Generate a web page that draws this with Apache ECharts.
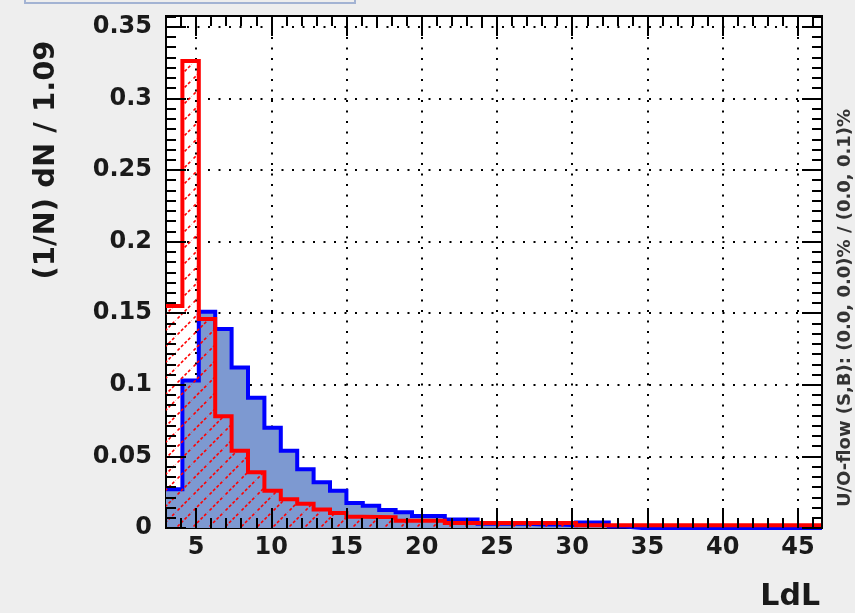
<!DOCTYPE html>
<html>
<head>
<meta charset="utf-8">
<title>LdL</title>
<script src="https://cdn.jsdelivr.net/npm/echarts@6/dist/echarts.min.js"></script>
<style>
  body { margin: 0; background: #eeeeee; }
  #main { width: 855px; height: 613px; }
</style>
</head>
<body>
<div id="main"></div>
<script>
// histogram binning: 40 bins of width 1.09 starting at 3
const xMin = 3
const binWidth = 1.09
const nBins = 40
const yMax = 0.3575

// signal (blue, filled)
const signal = [
  0.027, 0.103, 0.151, 0.139, 0.112, 0.091, 0.070, 0.054, 0.041, 0.032,
  0.026, 0.0175, 0.0155, 0.0125, 0.011, 0.0084, 0.0084, 0.006, 0.006, 0.003,
  0.003, 0.003, 0.0025, 0.0025, 0.002, 0.0038, 0.0038, 0.001, 0, 0,
  0, 0, 0, 0, 0, 0, 0, 0, 0, 0
]
// background (red, hatched)
const background = [
  0.155, 0.326, 0.146, 0.078, 0.054, 0.039, 0.026, 0.020, 0.017, 0.013,
  0.0105, 0.0078, 0.0077, 0.0076, 0.005, 0.005, 0.005, 0.0035, 0.0035, 0.0035,
  0.0035, 0.0035, 0.0035, 0.0035, 0.0035, 0.002, 0.002, 0.002, 0.002, 0.002,
  0.002, 0.002, 0.002, 0.002, 0.002, 0.002, 0.002, 0.002, 0.002, 0.002
]

const xMax = xMin + nBins * binWidth

// step points: left edge of each bin + closing right edge
function stepPoints(vals) {
  const pts = vals.map((v, i) => [xMin + i * binWidth, v])
  pts.push([xMax, vals[vals.length - 1]])
  return pts
}

// red hatch pattern (style 3004 like)
function hatch() {
  const s = 16
  const c = document.createElement('canvas')
  c.width = s
  c.height = s
  const ctx = c.getContext('2d')
  ctx.strokeStyle = '#ff0000'
  ctx.lineWidth = 1.6
  ctx.setLineDash([3, 2])
  ctx.beginPath()
  ctx.moveTo(-2, s + 2)
  ctx.lineTo(s + 2, -2)
  ctx.stroke()
  return c
}

const font = 'DejaVu Sans'
const txt = '#1a1a1a'
const tickStyle = { color: '#000', width: 2 }
const dots = { color: '#000', width: 2, type: [2, 8.5] }
const hideLine = { show: true, lineStyle: { color: 'rgba(0,0,0,0)', width: 1 } }

const chart = echarts.init(document.getElementById('main'))

chart.setOption({
  backgroundColor: '#eeeeee',
  animation: false,
  grid: {
    left: 166, right: 33, top: 16, bottom: 85,
    show: true, backgroundColor: '#ffffff', borderColor: '#000', borderWidth: 2
  },
  xAxis: [
    // main bottom axis: labels + major ticks (drawn above the histograms)
    {
      type: 'value', position: 'bottom', min: xMin, max: xMax, splitNumber: 9, z: 10,
      axisLine: hideLine,
      axisTick: { show: true, inside: true, length: 20, lineStyle: tickStyle },
      axisLabel: {
        show: true, margin: 8, showMinLabel: false, showMaxLabel: false,
        fontFamily: font, fontWeight: 'bold', fontSize: 24, color: txt
      },
      splitLine: { show: false }
    },
    // this one ends up on the bottom edge, so its ticks point up into the plot
    {
      type: 'value', position: 'top', min: xMin, max: xMax, splitNumber: 9, z: 10,
      axisLine: hideLine,
      axisTick: { show: true, inside: false, length: 20, lineStyle: tickStyle },
      axisLabel: { show: false },
      splitLine: { show: false }
    },
    // grid lines, under the histograms
    {
      type: 'value', position: 'bottom', min: xMin, max: xMax, splitNumber: 9, z: 0,
      axisLine: { show: false }, axisTick: { show: false }, axisLabel: { show: false },
      splitLine: { show: true, showMinLine: false, showMaxLine: false, lineStyle: dots }
    },
    // minor ticks every 1 unit at the bottom
    {
      type: 'value', position: 'bottom', min: xMin, max: xMax, interval: 1, z: 10,
      axisLine: hideLine,
      axisTick: { show: true, inside: true, length: 10, lineStyle: tickStyle },
      axisLabel: { show: false }, splitLine: { show: false }
    },
    // top edge: major + minor ticks
    {
      type: 'value', position: 'top', min: xMin, max: xMax, splitNumber: 9, z: 10,
      axisLine: hideLine,
      axisTick: { show: true, inside: true, length: 20, lineStyle: tickStyle },
      minorTick: { show: true, splitNumber: 5, length: 10, lineStyle: tickStyle },
      axisLabel: { show: false }, splitLine: { show: false }
    }
  ],
  yAxis: [
    {
      type: 'value', position: 'left', min: 0, max: yMax, interval: 0.05, z: 10,
      axisLine: hideLine,
      axisTick: { show: true, inside: true, length: 20, lineStyle: tickStyle },
      minorTick: { show: true, splitNumber: 7, length: 10, lineStyle: tickStyle },
      axisLabel: {
        show: true, margin: 14, showMaxLabel: false,
        fontFamily: font, fontWeight: 'bold', fontSize: 24, color: txt
      },
      splitLine: { show: false }
    },
    {
      type: 'value', position: 'right', min: 0, max: yMax, interval: 0.05, z: 10,
      axisLine: hideLine,
      axisTick: { show: true, inside: true, length: 20, lineStyle: tickStyle },
      minorTick: { show: true, splitNumber: 7, length: 10, lineStyle: tickStyle },
      axisLabel: { show: false },
      splitLine: { show: false }
    },
    {
      type: 'value', position: 'left', min: 0, max: yMax, interval: 0.05, z: 0,
      axisLine: { show: false }, axisTick: { show: false }, axisLabel: { show: false },
      splitLine: { show: true, showMinLine: false, showMaxLine: false, lineStyle: dots }
    }
  ],
  series: [
    {
      name: 'Signal', type: 'line', step: 'end', symbol: 'none', z: 2,
      xAxisIndex: 0, yAxisIndex: 0,
      data: stepPoints(signal),
      lineStyle: { color: '#0000ff', width: 4, join: 'miter' },
      areaStyle: { color: '#7d99d1', opacity: 1 }
    },
    {
      name: 'Background', type: 'line', step: 'end', symbol: 'none', z: 3,
      xAxisIndex: 0, yAxisIndex: 0,
      data: stepPoints(background),
      lineStyle: { color: '#ff0000', width: 4, join: 'miter' },
      areaStyle: { color: { image: hatch(), repeat: 'repeat' }, opacity: 1 }
    }
  ],
  graphic: [
    {
      type: 'rect', z: 20,
      shape: { x: 25, y: -20, width: 330, height: 23 },
      style: { fill: '#eeeeee', stroke: '#a3b3d3', lineWidth: 2 }
    },
    {
      type: 'text', x: 46, y: 160, rotation: Math.PI / 2, z: 20,
      style: {
        text: '(1/N) dN / 1.09', fill: txt,
        font: 'bold 29px "DejaVu Sans"', align: 'center', verticalAlign: 'middle'
      }
    },
    {
      type: 'text', x: 820, y: 597, z: 20,
      style: {
        text: 'LdL', fill: txt,
        font: 'bold 30px "DejaVu Sans"', align: 'right', verticalAlign: 'middle'
      }
    },
    {
      type: 'text', x: 845, y: 308, rotation: Math.PI / 2, z: 20,
      style: {
        text: 'U/O-flow (S,B): (0.0, 0.0)% / (0.0, 0.1)%', fill: '#333',
        font: 'bold 18px "DejaVu Sans"', align: 'center', verticalAlign: 'middle'
      }
    }
  ]
})
</script>
</body>
</html>
